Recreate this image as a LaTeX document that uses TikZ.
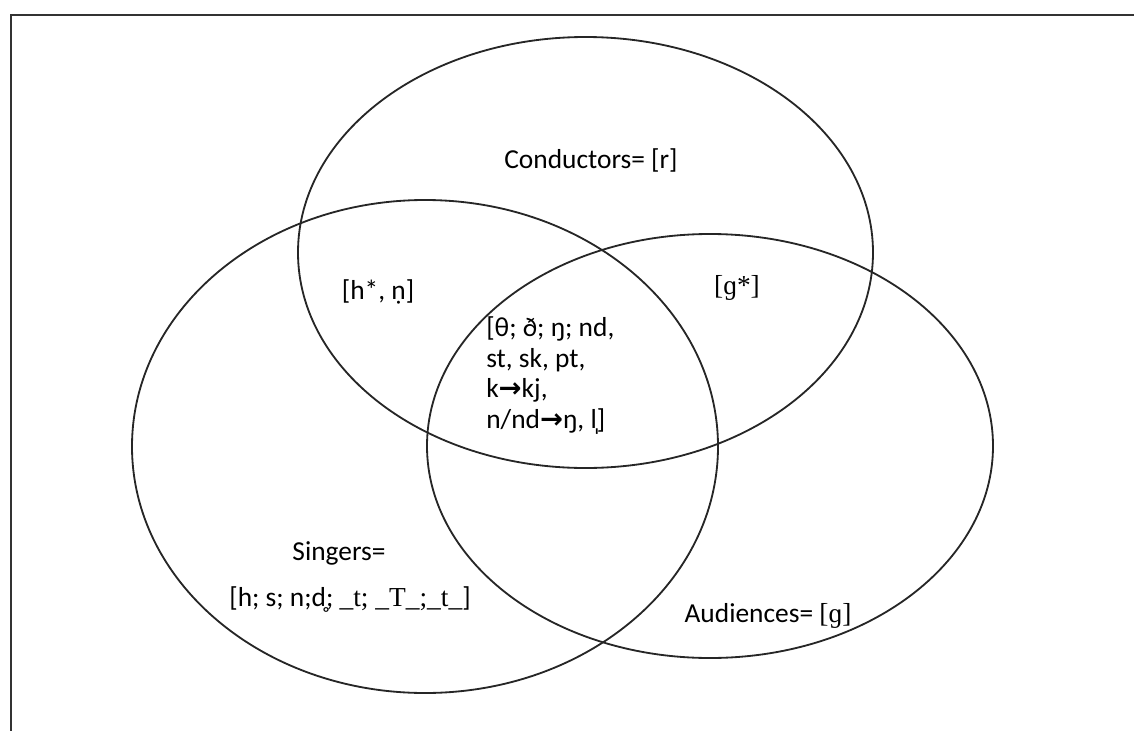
\documentclass[tikz,border=0pt]{standalone}
\usepackage{fontspec}
\setmainfont{Carlito}
\newfontfamily\ipaserif{Liberation Serif}
\newfontfamily\arrowfont{DejaVu Sans}
\newcommand{\ar}{{\arrowfont\bfseries →}}

\begin{document}
\begin{tikzpicture}[x=0.025cm, y=-0.025cm,
    ring/.style={line width=1.3pt, color=black!85},
    lbl/.style={inner sep=0pt, font=\fontsize{19.5}{22}\selectfont}]
    \useasboundingbox (0,0) rectangle (1134,731);
    \draw[line width=1.1pt, color=black!80] (11,731) -- (11,15) -- (1134,15);
    % the three sets
    \draw[ring] (585.5,252.5) ellipse [x radius=287.5, y radius=215.5];
    \draw[ring] (425,446.5) ellipse [x radius=293, y radius=246.5];
    \draw[ring] (710,446) ellipse [x radius=283, y radius=212];
    % labels
    \node[lbl] (cond) at (591,160) {Conductors= [r]};
    \node[lbl] (cs) at (378,292) {[h*, ṇ]};
    \node[lbl] (ca) at (737,288) {\ipaserif [ɡ*]};
    \node[lbl, anchor=north west, align=left] (all) at (486,316)
        {[θ; ð; ŋ; nd,\\st, sk, pt,\\k\ar kj,\\n/nd\ar ŋ, l̩]};
    \node[lbl] (sing) at (339,553) {Singers=};
    \node[lbl] (singset) at (350,600)
        {[h; s; n;d̥; {\ipaserif \_t; \_T\_;\_t\_}]};
    \node[lbl] (aud) at (768,616) {Audiences= {\ipaserif[ɡ]}};
\end{tikzpicture}
\end{document}
